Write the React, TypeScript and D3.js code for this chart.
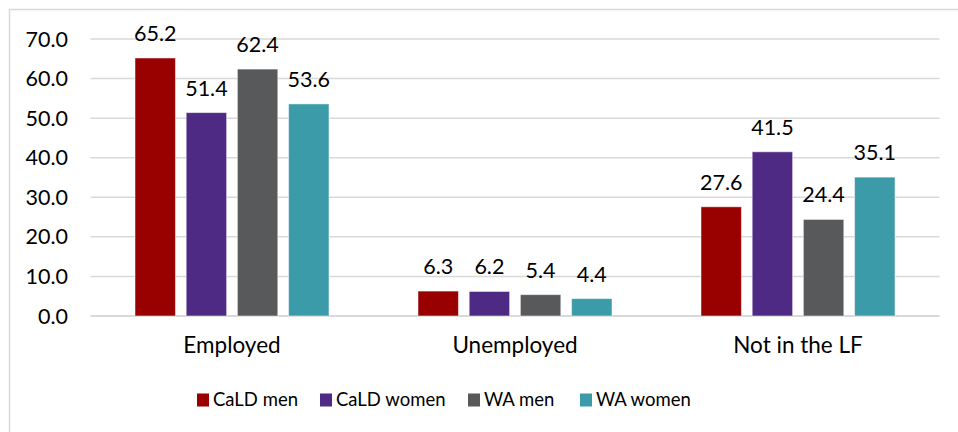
import React from "react";
import * as d3 from "d3";

const categories = ["Employed", "Unemployed", "Not in the LF"];
const seriesNames = ["CaLD men", "CaLD women", "WA men", "WA women"];
const cALDMen = [65.2, 6.3, 27.6];
const cALDWomen = [51.4, 6.2, 41.5];
const waMen = [62.4, 5.4, 24.4];
const waWomen = [53.6, 4.4, 35.1];
const yTicks = [0, 10, 20, 30, 40, 50, 60, 70];
const colors = ["#990000", "#4E2A84", "#58595B", "#3C9BA9"];

const seriesValues = [cALDMen, cALDWomen, waMen, waWomen];

export default function App() {
  const W = 958, H = 432;
  const font = "Lato, 'Open Sans', sans-serif";
  const y = d3.scaleLinear().domain([0, 70]).range([316, 39]);
  const x0 = d3.scaleBand<string>().domain(categories).range([90.5, 939.5]).padding(0);
  const bw = x0.bandwidth();
  const x1 = d3.scaleBand<string>().domain(seriesNames).range([44.5, bw - 44.5]).paddingInner(0.21);

  const legendX = [197, 320, 468, 580];

  return (
    <svg width={W} height={H} style={{ position: "absolute", left: 0, top: 0, background: "#fff" }} fontFamily={font}>
      <rect x={9.5} y={9.5} width={960} height={440} fill="none" stroke="#D9D9D9" strokeWidth={1.5} />
      {yTicks.map((t) => (
        <g key={t}>
          <line x1={90.5} x2={939.5} y1={y(t)} y2={y(t)} stroke="#D9D9D9" strokeWidth={t === 0 ? 2 : 1.5} />
          <text x={68} y={y(t) + 7.5} textAnchor="end" fontSize={21.5} fill="#000">
            {t.toFixed(1)}
          </text>
        </g>
      ))}
      {categories.map((c, ci) => (
        <g key={c} transform={`translate(${x0(c)},0)`}>
          {seriesNames.map((s, si) => {
            const v = seriesValues[si][ci];
            const bx = x1(s)!;
            return (
              <g key={s}>
                <rect x={bx} y={y(v)} width={x1.bandwidth()} height={y(0) - y(v)} fill={colors[si]} stroke="#ffffff" strokeOpacity={0.5} strokeWidth={1} />
                <text x={bx + x1.bandwidth() / 2} y={y(v) - 17} textAnchor="middle" fontSize={21.5} fill="#000">
                  {v.toFixed(1)}
                </text>
              </g>
            );
          })}
          <text x={bw / 2} y={353} textAnchor="middle" fontSize={22.5} fill="#000">
            {c}
          </text>
        </g>
      ))}
      {seriesNames.map((s, si) => (
        <g key={s}>
          <rect x={legendX[si]} y={393.5} width={12} height={13} fill={colors[si]} />
          <text x={legendX[si] + 16} y={406} fontSize={18.5} fill="#000">
            {s}
          </text>
        </g>
      ))}
    </svg>
  );
}
